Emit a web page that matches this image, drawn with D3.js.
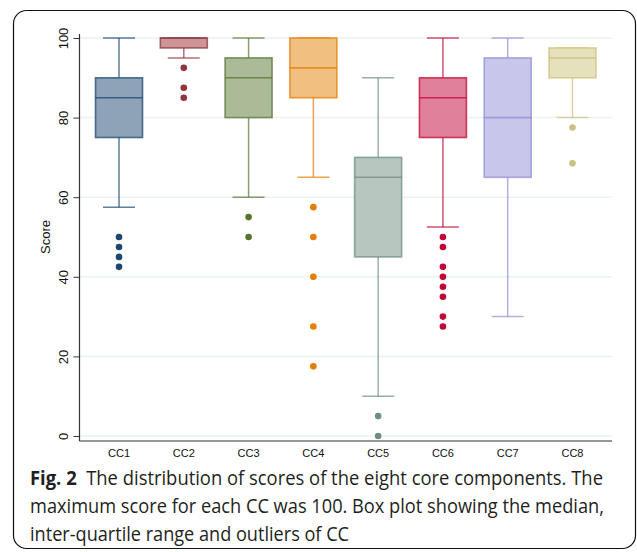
<!DOCTYPE html>
<html>
<head>
<meta charset="utf-8">
<script src="https://cdn.jsdelivr.net/npm/d3@7"></script>
<style>
body { margin:0; background:#fff; }
svg { display:block; }
</style>
</head>
<body>
<svg id="chart" width="637" height="552"></svg>
<script>
// data
var categories = ["CC1","CC2","CC3","CC4","CC5","CC6","CC7","CC8"];
var whiskLow  = [57.5, 95,   60, 65,   10, 52.5, 30, 80];
var q1        = [75,   97.5, 80, 85,   45, 75,   65, 90];
var median    = [85,   100,  90, 92.5, 65, 85,   80, 95];
var q3        = [90,   100,  95, 100,  70, 90,   95, 97.5];
var whiskHigh = [100,  100,  100,100,  90, 100,  100,97.5];
var outliers  = [
  [50, 47.5, 45, 42.5],
  [92.5, 87.5, 85],
  [55, 50],
  [57.5, 50, 40, 27.5, 17.5],
  [5, 0],
  [50, 47.5, 42.5, 40, 37.5, 35, 30, 27.5],
  [],
  [77.5, 68.5]
];
var yTicks = [0, 20, 40, 60, 80, 100];
var captionLines = [
  ["Fig. 2", "The distribution of scores of the eight core components. The"],
  ["", "maximum score for each CC was 100. Box plot showing the median,"],
  ["", "inter-quartile range and outliers of CC"]
];

// stata s2color-ish palette
var lineCol = ["#1a476f","#90353b","#55752f","#e37e00","#6e8e84","#c10534","#938dd2","#cac27e"];
var fillCol = ["#8ea3b8","#cc959a","#abbb97","#f1bf80","#b7c7c0","#e0809a","#c9c6eb","#e5e1bd"];

var svg = d3.select("#chart");

// outer frame
svg.append("rect")
    .attr("x",13.5).attr("y",10.5)
    .attr("width",622).attr("height",538)
    .attr("rx",13)
    .attr("fill","none")
    .attr("stroke","#111")
    .attr("stroke-width",1.2);

var plotL = 79.5, plotR = 612, plotT = 38, plotB = 436;

var y = d3.scaleLinear().domain([0,100]).range([plotB, plotT]);
var x = d3.scalePoint().domain(categories).range([plotL, plotR]).padding(0.61);

// gridlines
svg.append("g").selectAll("line")
    .data(yTicks)
    .enter().append("line")
    .attr("x1",plotL).attr("x2",plotR)
    .attr("y1",function(d){ return y(d); })
    .attr("y2",function(d){ return y(d); })
    .attr("stroke","#eaf2f3")
    .attr("stroke-width",1.5);

// y axis
var yAxis = d3.axisLeft(y).tickValues(yTicks).tickSize(6).tickPadding(4);
var gy = svg.append("g")
    .attr("transform","translate("+plotL+",0)")
    .call(yAxis);
gy.select(".domain").remove();
gy.selectAll(".tick line").attr("stroke","#333");
gy.selectAll(".tick text")
    .attr("transform","translate(-16,0) rotate(-90)")
    .attr("x",0).attr("y",0)
    .attr("dy","0.35em")
    .attr("text-anchor","middle")
    .style("font-family","'Liberation Sans', Arial, sans-serif")
    .style("font-size","13px")
    .attr("fill","#111");
svg.append("line")
    .attr("x1",plotL).attr("x2",plotL)
    .attr("y1",plotT-4).attr("y2",plotB+5)
    .attr("stroke","#333").attr("stroke-width",1.2);
svg.append("line")
    .attr("x1",plotL).attr("x2",plotR)
    .attr("y1",plotB+5).attr("y2",plotB+5)
    .attr("stroke","#333").attr("stroke-width",1.2);

// y label
svg.append("text")
    .attr("transform","translate(50,"+(y(50))+") rotate(-90)")
    .attr("text-anchor","middle")
    .style("font-family","'Liberation Sans', Arial, sans-serif")
    .style("font-size","13px")
    .attr("fill","#111")
    .text("Score");

// x labels
svg.append("g").selectAll("text")
    .data(categories)
    .enter().append("text")
    .attr("x",function(d){ return x(d); })
    .attr("y",457)
    .attr("text-anchor","middle")
    .style("font-family","'Liberation Sans', Arial, sans-serif")
    .style("font-size","11px")
    .attr("fill","#111")
    .text(function(d){ return d; });

// boxes
var boxW = 47, capW = 32;
var boxes = svg.append("g").selectAll("g")
    .data(categories)
    .enter().append("g");

boxes.each(function(c, i){
    var g = d3.select(this);
    var cx = x(c);
    // whiskers
    if (whiskHigh[i] > q3[i]) {
        g.append("line").attr("x1",cx).attr("x2",cx)
            .attr("y1",y(q3[i])).attr("y2",y(whiskHigh[i]))
            .attr("stroke",lineCol[i]).attr("stroke-opacity",0.7).attr("stroke-width",1.5);
    }
    g.append("line").attr("x1",cx-capW/2).attr("x2",cx+capW/2)
        .attr("y1",y(whiskHigh[i])).attr("y2",y(whiskHigh[i]))
        .attr("stroke",lineCol[i]).attr("stroke-opacity",0.7).attr("stroke-width",1.5);
    g.append("line").attr("x1",cx).attr("x2",cx)
        .attr("y1",y(q1[i])).attr("y2",y(whiskLow[i]))
        .attr("stroke",lineCol[i]).attr("stroke-opacity",0.7).attr("stroke-width",1.5);
    g.append("line").attr("x1",cx-capW/2).attr("x2",cx+capW/2)
        .attr("y1",y(whiskLow[i])).attr("y2",y(whiskLow[i]))
        .attr("stroke",lineCol[i]).attr("stroke-opacity",0.7).attr("stroke-width",1.5);
    // box
    g.append("rect")
        .attr("x",cx-boxW/2).attr("width",boxW)
        .attr("y",y(q3[i])).attr("height",y(q1[i])-y(q3[i]))
        .attr("fill",fillCol[i])
        .attr("stroke",lineCol[i]).attr("stroke-opacity",0.75)
        .attr("stroke-width",1.6);
    g.append("line").attr("x1",cx-boxW/2).attr("x2",cx+boxW/2)
        .attr("y1",y(median[i])).attr("y2",y(median[i]))
        .attr("stroke",lineCol[i]).attr("stroke-opacity",0.75).attr("stroke-width",1.6);
    // outliers
    g.selectAll("circle")
        .data(outliers[i])
        .enter().append("circle")
        .attr("cx",cx)
        .attr("cy",function(d){ return y(d); })
        .attr("r",3.3)
        .attr("fill",lineCol[i]);
});

// caption
var cap = svg.append("g");
var capWidths = [573, 574, 319];
captionLines.forEach(function(l, i){
    var t = cap.append("text")
        .attr("x",30)
        .attr("y",485 + i*28)
        .attr("textLength",capWidths[i])
        .attr("lengthAdjust","spacingAndGlyphs")
        .style("font-family","'Open Sans', 'Noto Sans', sans-serif")
        .style("font-size","20px")
        .attr("fill","#231f20");
    if (l[0]) {
        t.append("tspan").style("font-weight","bold").text(l[0] + "\u00a0\u00a0");
    }
    t.append("tspan").text(l[1]);
});
</script>
</body>
</html>
